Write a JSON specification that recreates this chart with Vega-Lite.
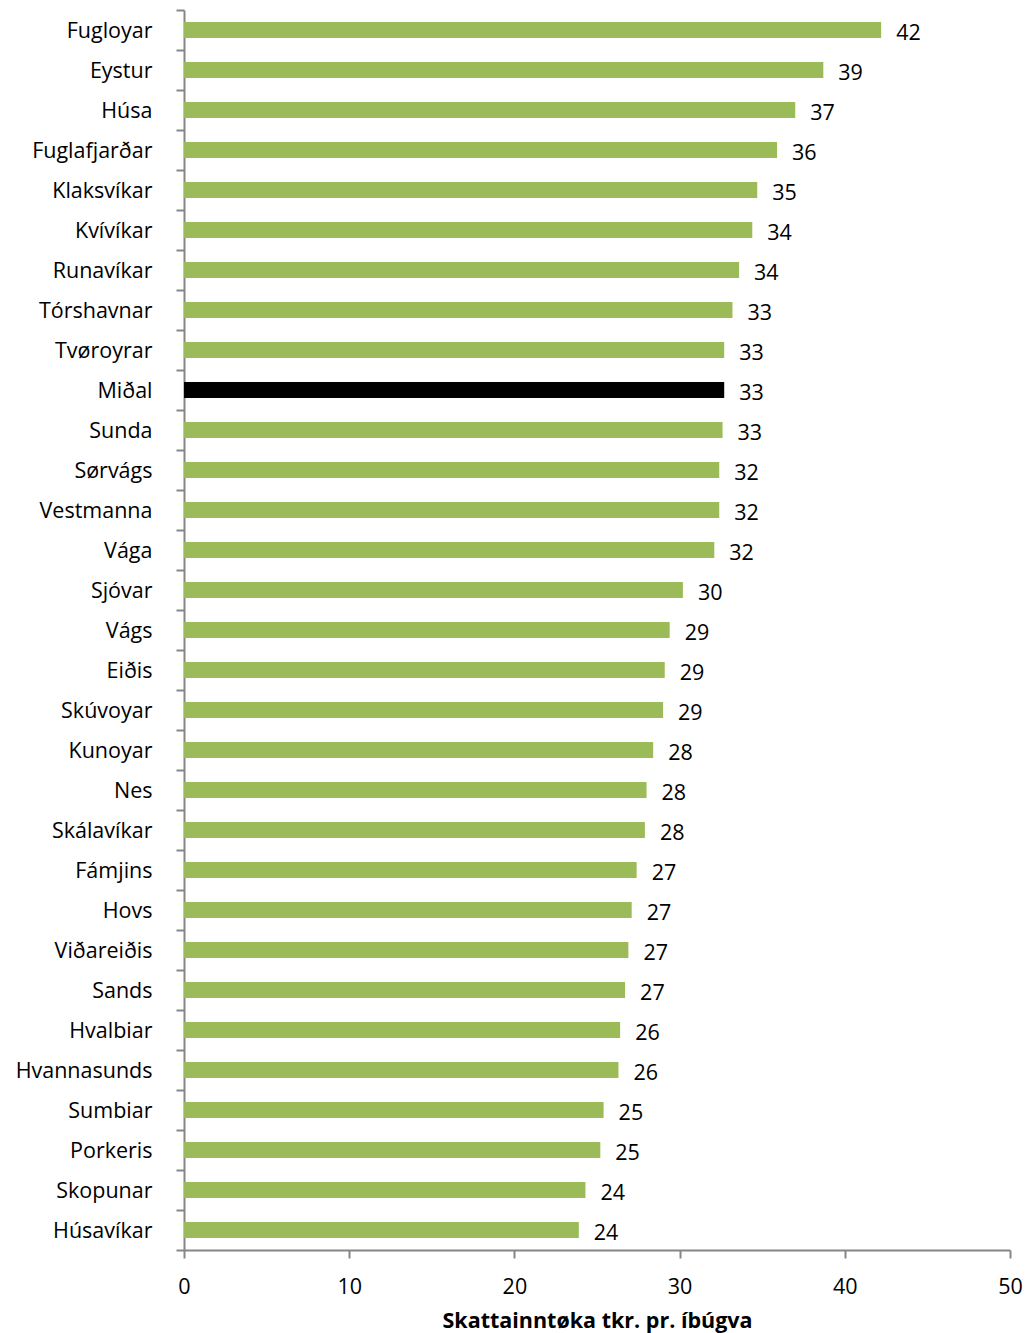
{
  "$schema": "https://vega.github.io/schema/vega-lite/v6.json",
  "autosize": {"type": "none"},
  "padding": {"left": 184, "top": 10, "right": 17, "bottom": 83},
  "width": 826,
  "height": 1240,
  "background": "white",
  "config": {"view": {"stroke": null}, "font": "Open Sans"},
  "data": {"values": [
    {"name": "Fugloyar", "value": 42.2},
    {"name": "Eystur", "value": 38.7},
    {"name": "Húsa", "value": 37.0},
    {"name": "Fuglafjarðar", "value": 35.9},
    {"name": "Klaksvíkar", "value": 34.7},
    {"name": "Kvívíkar", "value": 34.4},
    {"name": "Runavíkar", "value": 33.6},
    {"name": "Tórshavnar", "value": 33.2},
    {"name": "Tvøroyrar", "value": 32.7},
    {"name": "Miðal", "value": 32.7},
    {"name": "Sunda", "value": 32.6},
    {"name": "Sørvágs", "value": 32.4},
    {"name": "Vestmanna", "value": 32.4},
    {"name": "Vága", "value": 32.1},
    {"name": "Sjóvar", "value": 30.2},
    {"name": "Vágs", "value": 29.4},
    {"name": "Eiðis", "value": 29.1},
    {"name": "Skúvoyar", "value": 29.0},
    {"name": "Kunoyar", "value": 28.4},
    {"name": "Nes", "value": 28.0},
    {"name": "Skálavíkar", "value": 27.9},
    {"name": "Fámjins", "value": 27.4},
    {"name": "Hovs", "value": 27.1},
    {"name": "Viðareiðis", "value": 26.9},
    {"name": "Sands", "value": 26.7},
    {"name": "Hvalbiar", "value": 26.4},
    {"name": "Hvannasunds", "value": 26.3},
    {"name": "Sumbiar", "value": 25.4},
    {"name": "Porkeris", "value": 25.2},
    {"name": "Skopunar", "value": 24.3},
    {"name": "Húsavíkar", "value": 23.9}
  ]},
  "encoding": {
    "y": {
      "field": "name", "type": "nominal", "sort": null,
      "scale": {"paddingInner": 0, "paddingOuter": 0},
      "axis": {
        "title": null, "tickBand": "extent",
        "domainColor": "#868686", "domainWidth": 2,
        "tickColor": "#868686", "tickWidth": 2, "tickSize": 8,
        "labelFontSize": 21.5, "labelColor": "black", "labelPadding": 24, "labelOffset": 1
      }
    },
    "x": {
      "field": "value", "type": "quantitative",
      "scale": {"domain": [0, 50]},
      "axis": {
        "values": [0, 10, 20, 30, 40, 50], "grid": false, "labelFlush": false,
        "title": "Skattainntøka tkr. pr. íbúgva",
        "titleFontSize": 21.5, "titleFontWeight": "bold", "titleColor": "black", "titlePadding": 13,
        "domainColor": "#868686", "domainWidth": 2,
        "tickColor": "#868686", "tickWidth": 2, "tickSize": 8,
        "labelFontSize": 21.5, "labelColor": "black", "labelPadding": 18
      }
    }
  },
  "layer": [
    {
      "mark": {"type": "bar", "size": 16},
      "encoding": {
        "color": {
          "condition": {"test": "datum.name === 'Miðal'", "value": "black"},
          "value": "#9BBB59"
        }
      }
    },
    {
      "mark": {"type": "text", "align": "left", "baseline": "middle", "dx": 15, "dy": 3.5, "fontSize": 21.5, "color": "black"},
      "encoding": {"text": {"field": "value", "type": "quantitative", "format": ".0f"}}
    }
  ]
}
